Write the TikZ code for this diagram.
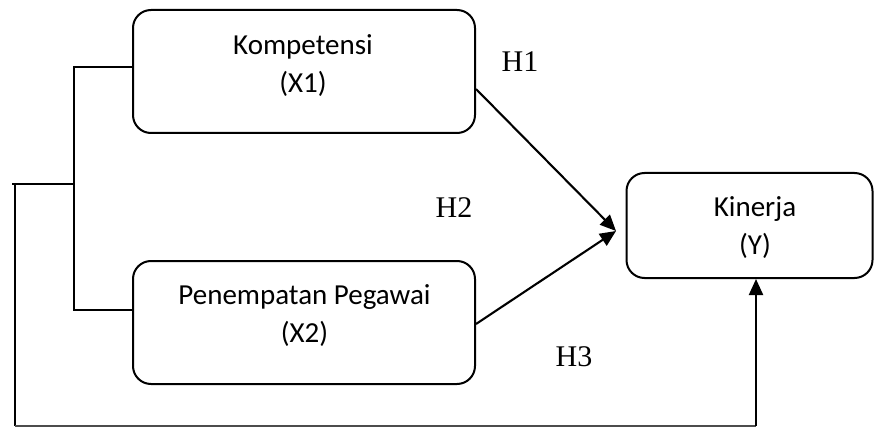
\documentclass[tikz,border=0pt]{standalone}
\usepackage{fontspec}
\setmainfont{Liberation Serif}
\newfontfamily\boxfont{Carlito}
\usetikzlibrary{arrows.meta}
\begin{document}
\begin{tikzpicture}[x=1pt,y=-1pt,
  varbox/.style={draw, line width=2pt, rounded corners=18pt, inner sep=0pt},
  boxtext/.style={align=center, inner sep=0pt, font=\boxfont\fontsize{29}{38}\selectfont},
  hlabel/.style={inner sep=0pt, font=\fontsize{30}{34}\selectfont},
  bracket/.style={line width=1.4pt},
  arr/.style={line width=2.1pt, -{Triangle[length=16pt,width=14pt]}},
  bottomline/.style={line width=1.4pt, black!70}]
\useasboundingbox (0,0) rectangle (874,430);
% boxes
\node[varbox, minimum width=342pt, minimum height=123pt] (x1) at (304,71.5) {};
\node[varbox, minimum width=342pt, minimum height=123pt] (x2) at (304,322.5) {};
\node[varbox, minimum width=246pt, minimum height=105pt] (y) at (749.5,225.5) {};
% box texts
\node[boxtext] (t1) at (303,66) {Kompetensi\\(X1)};
\node[boxtext] (t2) at (304.5,316) {Penempatan Pegawai\\(X2)};
\node[boxtext] (ty) at (755,228) {Kinerja\\(Y)};
% hypothesis labels
\node[hlabel] (h1) at (520,62) {H1};
\node[hlabel] (h2) at (454,208) {H2};
\node[hlabel] (h3) at (574,357) {H3};
% bracket
\coordinate (j) at (74,184);
\coordinate (l) at (12,184);
\coordinate (lv) at (15,184);
\coordinate (lb) at (15,426);
\coordinate (b) at (756,426);
\coordinate (tip) at (616,231);
\draw[bracket] ([yshift=4.5pt]x1.west) -| (j) |- ([yshift=12.5pt]x2.west);
\draw[bracket] (j) -- (l);
\draw[bracket] (lv) -- (lb);
\draw[bottomline] (lb) -- (b);
% arrows
\draw[arr] ([yshift=-17.5pt]x1.east) -- (tip);
\draw[arr] ([yshift=-1.5pt]x2.east) -- (tip);
\draw[arr] (b) -- (y.south -| b);
\end{tikzpicture}
\end{document}
